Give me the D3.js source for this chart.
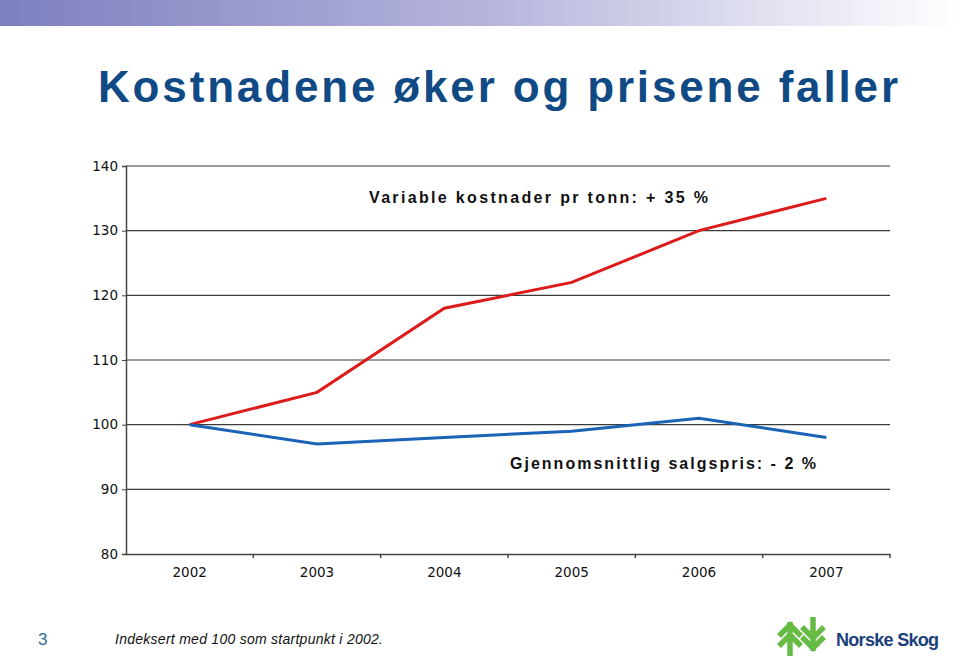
<!DOCTYPE html>
<html><head><meta charset="utf-8">
<script src="https://cdn.jsdelivr.net/npm/d3@7"></script>
<style>html,body{margin:0;padding:0;background:#fff;}svg{display:block;}</style>
</head><body>
<script>
const years = ["2002","2003","2004","2005","2006","2007"];
const costs = [100, 105, 118, 122, 130, 135];
const prices = [100, 97, 98, 99, 101, 98];
const yTicks = [80, 90, 100, 110, 120, 130, 140];

const W = 960, H = 659;
const svg = d3.select("body").append("svg").attr("width", W).attr("height", H);

// top gradient bar
const defs = svg.append("defs");
const g1 = defs.append("linearGradient").attr("id","topbar").attr("x1","0").attr("x2","1");
g1.append("stop").attr("offset","0").attr("stop-color","#7e7fbf");
g1.append("stop").attr("offset","0.5").attr("stop-color","#b4b4dc");
g1.append("stop").attr("offset","1").attr("stop-color","#ffffff");
svg.append("rect").attr("x",0).attr("y",0).attr("width",W).attr("height",26).attr("fill","url(#topbar)");

// title
svg.append("text").attr("x",98).attr("y",102)
  .attr("textLength",800).attr("lengthAdjust","spacing")
  .attr("font-family","Liberation Sans, Arial, sans-serif").attr("font-weight","bold")
  .attr("font-size",44).attr("fill","#0f4a85")
  .text("Kostnadene øker og prisene faller");

const x = d3.scaleBand().domain(years).range([126, 890]);
const y = d3.scaleLinear().domain([80,140]).range([554,166]);

const g = svg.append("g");
// gridlines
g.selectAll("line.grid").data(yTicks.filter(d=>d>80)).join("line")
  .attr("x1",126).attr("x2",890).attr("y1",d=>y(d)).attr("y2",d=>y(d))
  .attr("stroke","#3a3a3a").attr("stroke-width",1.2);

// y axis
const yAxis = d3.axisLeft(y).tickValues(yTicks).tickSize(4).tickPadding(4);
const ya = g.append("g").attr("transform","translate(126,0)").call(yAxis);
ya.select(".domain").attr("stroke","#444").attr("stroke-width",1.5);
ya.selectAll(".tick line").attr("stroke","#444");
ya.selectAll("text").attr("font-family","DejaVu Sans, Verdana, sans-serif").attr("font-size",13.5).attr("fill","#111");

// x axis
const xAxis = d3.axisBottom(x).tickSize(0).tickPadding(13);
const xa = g.append("g").attr("transform","translate(0,554)").call(xAxis);
xa.select(".domain").attr("stroke","#444").attr("stroke-width",1.5);
xa.selectAll("text").attr("font-family","DejaVu Sans, Verdana, sans-serif").attr("font-size",13.5).attr("fill","#111");
// boundary tick marks
xa.selectAll("line.bt").data(years.slice(1).concat(["end"])).join("line").attr("class","bt")
  .attr("x1",(d,i)=>x.range()[0]+x.step()*(i+1)).attr("x2",(d,i)=>x.range()[0]+x.step()*(i+1))
  .attr("y1",0).attr("y2",4).attr("stroke","#444").attr("stroke-width",1.5);

const line = d3.line().x((d,i)=>x(years[i])+x.bandwidth()/2).y(d=>y(d));
g.append("path").datum(costs).attr("d",line).attr("fill","none").attr("stroke","#dd1b1b").attr("stroke-width",3);
g.append("path").datum(prices).attr("d",line).attr("fill","none").attr("stroke","#1a63b6").attr("stroke-width",3);

// annotations
svg.append("text").attr("x",369).attr("y",203).attr("textLength",339).attr("lengthAdjust","spacing")
  .attr("font-family","Liberation Sans, Arial, sans-serif").attr("font-weight","bold").attr("font-size",16).attr("fill","#111")
  .text("Variable kostnader pr tonn: + 35 %");
svg.append("text").attr("x",510).attr("y",469).attr("textLength",306).attr("lengthAdjust","spacing")
  .attr("font-family","Liberation Sans, Arial, sans-serif").attr("font-weight","bold").attr("font-size",16).attr("fill","#111")
  .text("Gjennomsnittlig salgspris: - 2 %");

// footer
svg.append("text").attr("x",38).attr("y",645).attr("font-family","Liberation Sans, Arial, sans-serif")
  .attr("font-size",17).attr("fill","#2f6a9a").text("3");
svg.append("text").attr("x",115).attr("y",644).attr("textLength",268).attr("lengthAdjust","spacing")
  .attr("font-family","Liberation Sans, Arial, sans-serif").attr("font-style","italic").attr("font-size",14).attr("fill","#111")
  .text("Indeksert med 100 som startpunkt i 2002.");

// logo
const lg = svg.append("g");
const green = "#66bb44";
// up-pointing tree
lg.append("line").attr("x1",790).attr("y1",622).attr("x2",790).attr("y2",656).attr("stroke",green).attr("stroke-width",5.5);
lg.append("path").attr("d","M779,636 L790,625 L801,636").attr("fill","none").attr("stroke",green).attr("stroke-width",5.5);
lg.append("path").attr("d","M779,646 L790,635 L801,646").attr("fill","none").attr("stroke",green).attr("stroke-width",5.5);
// down-pointing tree
lg.append("line").attr("x1",813).attr("y1",617).attr("x2",813).attr("y2",651).attr("stroke",green).attr("stroke-width",5.5);
lg.append("path").attr("d","M802,627 L813,638 L824,627").attr("fill","none").attr("stroke",green).attr("stroke-width",5.5);
lg.append("path").attr("d","M802,637 L813,648 L824,637").attr("fill","none").attr("stroke",green).attr("stroke-width",5.5);
lg.append("text").attr("x",836).attr("y",646).attr("font-family","Liberation Sans, Arial, sans-serif").attr("font-weight","bold")
  .attr("font-size",18).attr("letter-spacing",-0.7).attr("fill","#1b3f7a").text("Norske Skog");
</script>
</body></html>
